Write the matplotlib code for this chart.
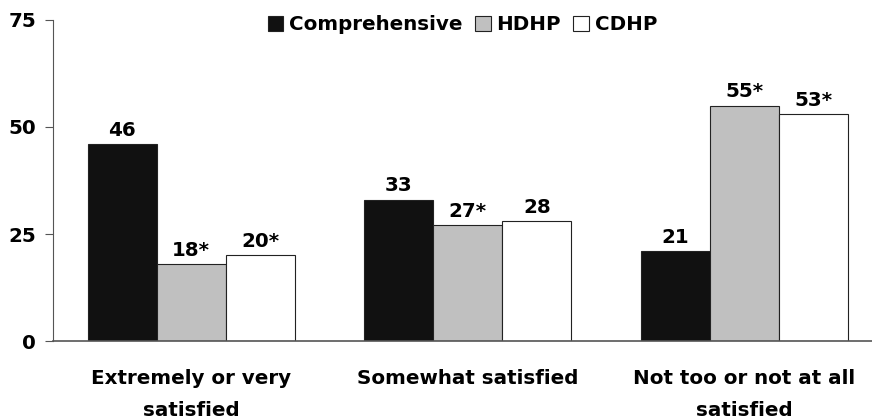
import numpy as np
import matplotlib.pyplot as plt

categories = ["Extremely or very\nsatisfied", "Somewhat satisfied", "Not too or not at all\nsatisfied"]
series_names = ["Comprehensive", "HDHP", "CDHP"]
comprehensive = [46, 33, 21]
hdhp = [18, 27, 55]
cdhp = [20, 28, 53]
comp_labels = ["46", "33", "21"]
hdhp_labels = ["18*", "27*", "55*"]
cdhp_labels = ["20*", "28", "53*"]

plt.rcParams['font.family'] = ['DejaVu Sans']
FW = "bold"
FS = 14.3

fig = plt.figure(figsize=(8.72, 4.19), dpi=100)
ax = fig.add_axes([53 / 872, 78 / 419, 1 - 53 / 872, 321 / 419])

x = np.arange(len(categories))
w = 0.25
colors = ["#111111", "#c0c0c0", "#ffffff"]
data = [comprehensive, hdhp, cdhp]
labels = [comp_labels, hdhp_labels, cdhp_labels]
for i, (vals, lab) in enumerate(zip(data, labels)):
    bars = ax.bar(x + (i - 1) * w, vals, w, color=colors[i], edgecolor="#222222",
                  linewidth=0.8, label=series_names[i])
    for b, t in zip(bars, lab):
        ax.text(b.get_x() + b.get_width() / 2, b.get_height() + 1.0, t,
                ha="center", va="bottom", fontsize=FS, fontweight=FW)

ax.set_ylim(0, 75)
ax.set_xlim(-0.5, -0.5 + (872 - 53) / 276.5)
ax.set_yticks([0, 25, 50, 75])
ax.set_yticklabels(["0", "25", "50", "75"], fontsize=FS, fontweight=FW)
ax.tick_params(axis="y", length=6, width=0.8, color="#555555", pad=6)
ax.set_xticks(x)
ax.set_xticklabels(categories, fontsize=FS, fontweight=FW, linespacing=1.85)
ax.tick_params(axis="x", length=0, pad=20)
for s in ["top", "right"]:
    ax.spines[s].set_visible(False)
ax.spines["left"].set_color("#555555")
ax.spines["bottom"].set_color("#555555")
ax.spines["bottom"].set_linewidth(1.2)

ax.legend(loc="upper center", bbox_to_anchor=(0.5, 1.07), ncol=3, frameon=False,
          handlelength=0.8, handleheight=0.8, handletextpad=0.3,
          columnspacing=0.6, prop={"weight": FW, "size": FS})

plt.savefig("out.png", dpi=100)
